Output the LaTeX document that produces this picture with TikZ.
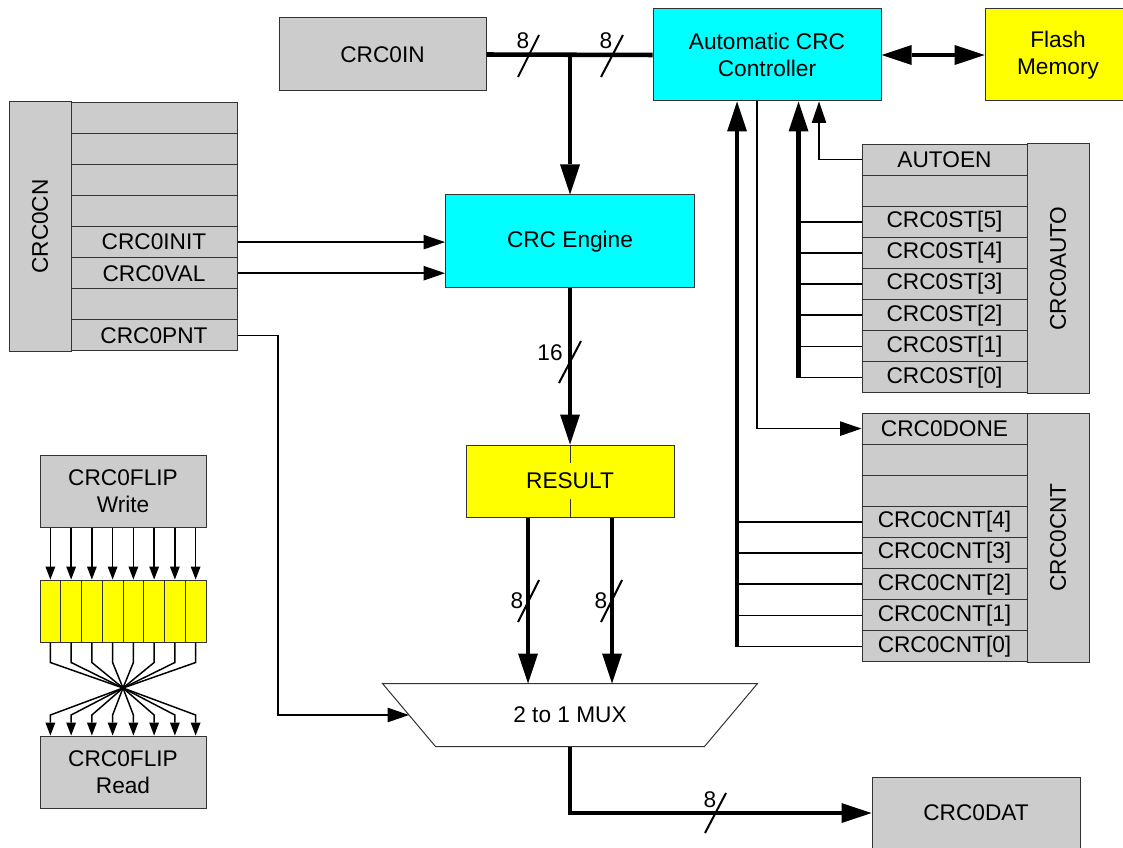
\documentclass[tikz,border=0pt]{standalone}
\usepackage{fontspec}
\setmainfont{Liberation Sans}
\usetikzlibrary{arrows.meta}
\definecolor{regfill}{RGB}{204,204,204}
\definecolor{ctrlfill}{RGB}{0,255,255}
\definecolor{memfill}{RGB}{255,255,0}
\tikzset{every picture/.style={line width=0.75pt}}
\tikzset{
  every node/.style={font=\fontsize{17}{20.25}\selectfont},
  blk/.style={draw=black!80, inner sep=0pt, align=center},
  reg/.style={blk, fill=regfill, minimum width=124.5pt, minimum height=23.34pt},
  regname/.style={blk, fill=regfill, rotate=90, minimum width=186.75pt, minimum height=46.5pt},
  bitcell/.style={blk, fill=memfill, minimum width=15.5625pt, minimum height=46.5pt},
  bus/.style={line width=3.4pt},
  sig/.style={line width=1.1pt},
  tick/.style={line width=1.5pt},
  bushead/.tip={Triangle[length=22.5pt,width=15pt,line width=0pt]},
  sighead/.tip={Triangle[length=16pt,width=11pt,line width=0pt]},
  bithead/.tip={Triangle[length=9.75pt,width=7.5pt,line width=0pt]}
}
\begin{document}
\begin{tikzpicture}[x=0.75pt,y=0.75pt,yscale=-1,xscale=1]
\useasboundingbox (0,0) rectangle (1123,848);

%Shape: Rectangle
\node[blk, fill=regfill, minimum width=155.25pt, minimum height=54.75pt] (crcin) at (382.5,54.5) {CRC0IN};
%Shape: Rectangle
\node[blk, fill=ctrlfill, minimum width=171pt, minimum height=69pt] (ctrl) at (767,55) {Automatic CRC\\Controller};
%Shape: Rectangle
\node[blk, fill=memfill, minimum width=109.5pt, minimum height=69pt] (flash) at (1058,55) {Flash\\Memory};
%Shape: Rectangle
\node[blk, fill=ctrlfill, minimum width=186.75pt, minimum height=69.75pt] (eng) at (570,241.5) {CRC Engine};
%Shape: Rectangle
\node[blk, fill=memfill, minimum width=156pt, minimum height=54pt] (res) at (570,481) {RESULT};
%Shape: Rectangle
\node[blk, fill=regfill, minimum width=156pt, minimum height=54pt] (dat) at (976,813) {CRC0DAT};
%Shape: Trapezoid
\node[inner sep=0pt, minimum width=280.5pt, minimum height=46.5pt] (mux) at (570,715) {2 to 1 MUX};
\draw[draw=black!80] (mux.north west) -- (mux.north east) -- ([xshift=-39.75pt]mux.south east) -- ([xshift=39.75pt]mux.south west) -- cycle;

%Shape: Register CRC0CN
\node[regname] (cncol) at (40,226.5) {CRC0CN};
\node[reg] (cn0) at (154,117.6) {};
\node[reg] (cn1) at (154,148.7) {};
\node[reg] (cn2) at (154,179.8) {};
\node[reg] (cn3) at (154,210.9) {};
\node[reg] (cn4) at (154,242.1) {CRC0INIT};
\node[reg] (cn5) at (154,273.2) {CRC0VAL};
\node[reg] (cn6) at (154,304.3) {};
\node[reg] (cn7) at (154,335.4) {CRC0PNT};

%Shape: Register CRC0AUTO
\node[regname] (aucol) at (1058,268.5) {CRC0AUTO};
\node[reg, minimum width=123.75pt] (au0) at (944.5,159.6) {AUTOEN};
\node[reg, minimum width=123.75pt] (au1) at (944.5,190.7) {};
\node[reg, minimum width=123.75pt] (au2) at (944.5,221.8) {CRC0ST[5]};
\node[reg, minimum width=123.75pt] (au3) at (944.5,252.9) {CRC0ST[4]};
\node[reg, minimum width=123.75pt] (au4) at (944.5,284.1) {CRC0ST[3]};
\node[reg, minimum width=123.75pt] (au5) at (944.5,315.2) {CRC0ST[2]};
\node[reg, minimum width=123.75pt] (au6) at (944.5,346.3) {CRC0ST[1]};
\node[reg, minimum width=123.75pt] (au7) at (944.5,377.4) {CRC0ST[0]};

%Shape: Register CRC0CNT
\node[regname] (cntcol) at (1058,537.5) {CRC0CNT};
\node[reg, minimum width=123.75pt] (cnt0) at (944.5,428.6) {CRC0DONE};
\node[reg, minimum width=123.75pt] (cnt1) at (944.5,459.7) {};
\node[reg, minimum width=123.75pt] (cnt2) at (944.5,490.8) {};
\node[reg, minimum width=123.75pt] (cnt3) at (944.5,521.9) {CRC0CNT[4]};
\node[reg, minimum width=123.75pt] (cnt4) at (944.5,553.1) {CRC0CNT[3]};
\node[reg, minimum width=123.75pt] (cnt5) at (944.5,584.2) {CRC0CNT[2]};
\node[reg, minimum width=123.75pt] (cnt6) at (944.5,615.3) {CRC0CNT[1]};
\node[reg, minimum width=123.75pt] (cnt7) at (944.5,646.4) {CRC0CNT[0]};

%Shape: CRC0FLIP
\node[blk, fill=regfill, minimum width=124.5pt, minimum height=54pt] (fwr) at (123,491) {CRC0FLIP\\Write};
\node[blk, fill=regfill, minimum width=124.5pt, minimum height=54pt] (frd) at (123,772) {CRC0FLIP\\Read};
\coordinate (fanin) at (123,662.5);
\coordinate (cross) at (123,688);
\coordinate (fanout) at (123,715);
\foreach \i in {0,...,7} {
  \node[bitcell] (bit\i) at ({40+20.75*(\i+0.5)},611) {};
  \draw[sig,-bithead] (bit\i |- fwr.south) -- (bit\i.north);
}
\foreach \i in {0,...,7} {
  \pgfmathtruncatemacro{\j}{7-\i}
  \draw[sig,-bithead] (bit\i.south) -- (bit\i |- fanin) -- (cross) -- (bit\j |- fanout) -- (bit\j |- frd.north);
}

%Straight Lines: data path
\coordinate (busj) at (570,55);
\draw[bus] (crcin.east) -- (ctrl.west);
\draw[bus,-bushead] (busj) -- (eng.north);
\draw[bus,bushead-bushead] (ctrl.east) -- (flash.west);
\draw[bus,-bushead] (eng.south) -- (res.north);
\draw[blk] (res.north) -- ++(0,18);
\draw[blk] (res.south) -- ++(0,-19);
\draw[bus,-bushead] ([xshift=-31.5pt]res.south) -- ([xshift=-31.5pt]res.south |- mux.north);
\draw[bus,-bushead] ([xshift=31.5pt]res.south) -- ([xshift=31.5pt]res.south |- mux.north);
\draw[bus,-bushead] (mux.south) |- (dat.west);

%Straight Lines: CRC0CN
\coordinate (pnt) at (278,715);
\draw[sig,-sighead] (cn4.east) -- (cn4.east -| eng.west);
\draw[sig,-sighead] (cn5.east) -- (cn5.east -| eng.west);
\draw[sig,-sighead] (cn7.east) -| (pnt) -- ([xshift=19.875pt]mux.west);

%Straight Lines: controller
\coordinate (cntbus) at (737,647);
\coordinate (stbus) at (798.5,378);
\draw[bus,-bushead] (cntbus) -- (cntbus |- ctrl.south);
\draw[bus,-bushead] (stbus) -- (stbus |- ctrl.south);
\draw[sig,-sighead] ([xshift=-7.5pt]ctrl.south) |- (cnt0.west);
\draw[sig,-sighead] (au0.west) -| ([xshift=39pt]ctrl.south);
\draw[sig] (au2.west) -- (au2.west -| stbus);
\draw[sig] (au3.west) -- (au3.west -| stbus);
\draw[sig] (au4.west) -- (au4.west -| stbus);
\draw[sig] (au5.west) -- (au5.west -| stbus);
\draw[sig] (au6.west) -- (au6.west -| stbus);
\draw[sig] (au7.west) -- (au7.west -| stbus);
\draw[sig] (cnt3.west) -- (cnt3.west -| cntbus);
\draw[sig] (cnt4.west) -- (cnt4.west -| cntbus);
\draw[sig] (cnt5.west) -- (cnt5.west -| cntbus);
\draw[sig] (cnt6.west) -- (cnt6.west -| cntbus);
\draw[sig] (cnt7.west) -- (cnt7.west -| cntbus);

%Straight Lines: bus width marks
\draw[tick] (518,77) -- (539,35);
\draw[tick] (601,77) -- (623,35);
\draw[tick] (559,383) -- (581,341);
\draw[tick] (518,622) -- (539,580);
\draw[tick] (601,622) -- (622,580);
\draw[tick] (705,833) -- (726,793);

% Text Node
\node (w1) at (523,41) {8};
% Text Node
\node (w2) at (606,41) {8};
% Text Node
\node (w3) at (550,353) {16};
% Text Node
\node (w4) at (517,601) {8};
% Text Node
\node (w5) at (601,601) {8};
% Text Node
\node (w6) at (710,800) {8};

\end{tikzpicture}
\end{document}
